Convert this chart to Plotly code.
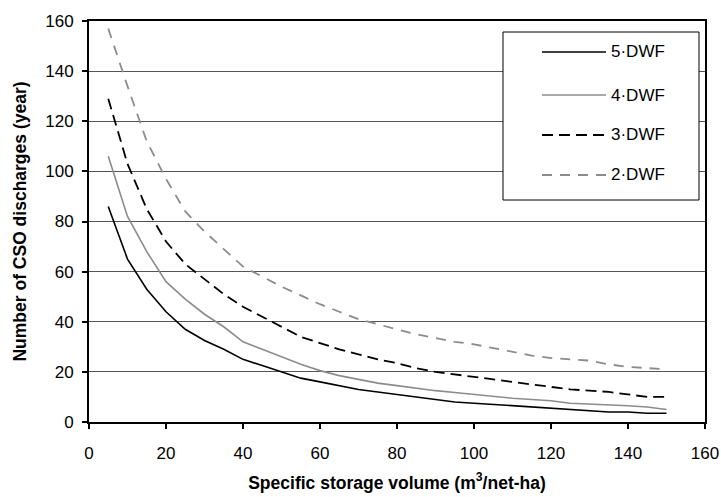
import plotly.graph_objects as go

x_vals = [5, 10, 15, 20, 25, 30, 35, 40, 45, 50, 55, 60, 65, 70, 75, 80, 85, 90, 95, 100,
          105, 110, 115, 120, 125, 130, 135, 140, 145, 150]
dwf5 = [86, 65, 53, 44, 37, 32.5, 29, 25, 22.5, 20, 17.5, 16, 14.5, 13, 12, 11, 10, 9, 8, 7.5,
        7, 6.5, 6, 5.5, 5, 4.5, 4, 4, 3.5, 3.5]
dwf4 = [106, 82, 68, 56, 49, 43, 38, 32, 29, 26, 23, 20.5, 18.5, 17, 15.5, 14.5, 13.5, 12.5, 11.8, 11,
        10, 9.5, 9, 8.5, 7.5, 7.2, 7, 6.5, 6, 5]
dwf3 = [129, 103, 85, 72, 63, 57, 51, 46, 42, 38, 34, 31.5, 29, 27, 25, 23.5, 21.5, 20, 19, 18,
        17, 16, 15, 14, 13, 12.5, 12, 11, 10, 10]
dwf2 = [157, 134, 112, 97, 84, 76, 69, 62, 58, 54, 50.5, 47, 44, 41, 39, 37, 35, 33.5, 32, 31,
        29.5, 28, 26.5, 25.5, 25, 24.5, 23, 22, 21.5, 21]
labels = ["5·DWF", "4·DWF", "3·DWF", "2·DWF"]
series = [dwf5, dwf4, dwf3, dwf2]
styles = [("black", "solid", 1.6), ("#8c8c8c", "solid", 1.6),
          ("black", "11px,6px", 1.8), ("#8c8c8c", "10px,8px", 1.8)]
y_ticks = [0, 20, 40, 60, 80, 100, 120, 140, 160]
x_ticks = [0, 20, 40, 60, 80, 100, 120, 140, 160]

FONT = "Liberation Sans, Arial, sans-serif"

fig = go.Figure()
for lab, ys, (col, dash, w) in zip(labels, series, styles):
    fig.add_trace(go.Scatter(x=x_vals, y=ys, mode="lines", name=lab,
                             line=dict(color=col, dash=dash, width=w),
                             showlegend=False))

W, H = 721, 497
ml, mr, mt, mb = 89, 16, 21, 75
pw, ph = W - ml - mr, H - mt - mb

def px2paper_x(px):
    return (px - ml) / pw

def px2paper_y(py):
    return (H - mb - py) / ph

shapes = []
annotations = []
# legend box
shapes.append(dict(type="rect", xref="paper", yref="paper",
                   x0=px2paper_x(503), x1=px2paper_x(699),
                   y0=px2paper_y(200), y1=px2paper_y(32),
                   line=dict(color="black", width=1), fillcolor="white", layer="above"))
row_y = [52, 95, 135, 175]
for lab, (col, dash, w), ry in zip(labels, styles, row_y):
    shapes.append(dict(type="line", xref="paper", yref="paper",
                       x0=px2paper_x(542), x1=px2paper_x(606),
                       y0=px2paper_y(ry), y1=px2paper_y(ry),
                       line=dict(color=col, width=w, dash=dash),
                       layer="above"))
    annotations.append(dict(xref="paper", yref="paper", x=px2paper_x(609), y=px2paper_y(ry),
                            text=lab, showarrow=False, xanchor="left", yanchor="middle",
                            font=dict(size=17, color="black", family=FONT)))

fig.update_layout(
    width=W, height=H,
    margin=dict(l=ml, r=mr, t=mt, b=mb, autoexpand=False),
    paper_bgcolor="white", plot_bgcolor="white",
    font=dict(family=FONT, size=17, color="black"),
    shapes=shapes, annotations=annotations,
    showlegend=False,
)
fig.update_xaxes(range=[0, 160], tickvals=x_ticks, ticks="outside", ticklen=5, tickwidth=1.5,
                 tickcolor="black", showline=True, linecolor="black", linewidth=2, mirror=True,
                 showgrid=False, zeroline=False, tickfont=dict(size=17), ticklabelstandoff=10,
                 automargin=False,
                 title=dict(text="<b>Specific storage volume (m<sup>3</sup>/net-ha)</b>",
                            font=dict(size=17.5), standoff=14))
fig.update_yaxes(range=[0, 160], tickvals=y_ticks, ticks="outside", ticklen=5, tickwidth=1.5,
                 tickcolor="black", showline=True, linecolor="black", linewidth=2, mirror=True,
                 showgrid=True, gridcolor="#555555", gridwidth=1, zeroline=False,
                 tickfont=dict(size=17), ticklabelstandoff=5, automargin=False,
                 title=dict(text="<b>Number of CSO discharges (year)</b>", font=dict(size=17.5),
                            standoff=14))

fig.write_html("out.html")
